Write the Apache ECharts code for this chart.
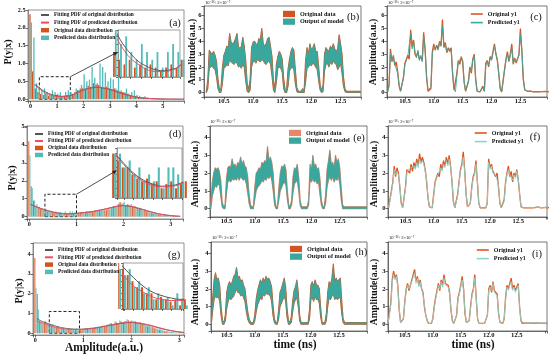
<!DOCTYPE html>
<html><head><meta charset="utf-8">
<script src="https://cdn.jsdelivr.net/npm/echarts@6/dist/echarts.min.js"></script>
<style>html,body{margin:0;padding:0;background:#fff}#c{width:550px;height:355px}</style>
</head><body><div id="c"></div>
<script>
// ---------- DATA ----------
const timeNs = [
 10.2,10.225,10.25,10.275,10.3,10.325,10.35,10.375,10.4,10.425,
 10.45,10.475,10.5,10.525,10.55,10.575,10.6,10.625,10.65,10.675,
 10.7,10.725,10.75,10.775,10.8,10.825,10.85,10.875,10.9,10.925,
 10.95,10.975,11,11.025,11.05,11.075,11.1,11.125,11.15,11.175,
 11.2,11.225,11.25,11.275,11.3,11.325,11.35,11.375,11.4,11.425,
 11.45,11.475,11.5,11.525,11.55,11.575,11.6,11.625,11.65,11.675,
 11.7,11.725,11.75,11.775,11.8,11.825,11.85,11.875,11.9,11.925,
 11.95,11.975,12,12.025,12.05,12.075,12.1,12.125,12.15,12.175,
 12.2,12.225,12.25,12.275,12.3,12.325,12.35,12.375,12.4,12.425,
 12.45,12.475,12.5,12.525,12.55,12.575,12.6,12.625,12.65,12.675,
 12.7,12.725,12.75,12.775,12.8,12.825,12.85,12.875,12.9,12.925,12.95,12.975,13,13.025,13.05];

const row1Original = [
 0.05,0.6,3.4,2.4,2.9,2.1,2.4,1.6,0.5,0.1,
 0.05,1.2,2.3,2.6,2.9,2.6,4.9,3.6,4.1,3.0,
 2.8,3.2,2.6,2.8,2.5,4.7,3.3,1.2,0.1,0.05,
 0.3,3.2,3.8,3.3,3.7,3.4,4.0,3.6,5.7,3.5,
 3.9,3.1,3.5,3.2,3.5,1.5,0.2,0.05,1.5,2.5,
 2.2,2.8,2.4,0.8,0.1,0.05,0.9,2.0,1.5,2.6,
 3.0,1.0,0.1,0.05,0.05,0.1,0.5,0.1,2.3,2.5,
 2.0,2.8,2.6,3.2,3.8,3.0,2.5,1.5,0.3,0.05,
 0.1,1.8,2.6,3.2,2.4,3.0,3.8,2.2,2.7,2.3,
 2.6,3.0,5.0,3.2,1.0,0.2,0.05,0.1,0.05,0.1,
 0.08,0.05,0.1,0.06,0.08,0.05,0.1,0.07,0.05,0.08,0.06,0.07,0.05,0.08,0.06];
const row1Predicted = [
 0.05,0.5,3.1,2.5,2.8,2.2,2.3,1.5,0.6,0.1,
 0.05,1.1,2.2,2.5,2.8,2.7,4.6,3.4,4.0,3.1,
 2.7,3.3,2.5,2.9,2.4,4.4,3.4,1.3,0.2,0.05,
 0.4,3.0,3.6,3.4,3.6,3.3,3.9,3.7,5.2,3.6,
 3.8,3.2,3.4,3.3,3.4,1.6,0.3,0.05,1.4,2.4,
 2.3,2.7,2.5,0.9,0.1,0.05,0.8,1.9,1.6,2.5,
 2.9,1.1,0.1,0.05,0.05,0.1,0.4,0.1,2.1,2.4,
 2.1,2.7,2.5,3.1,3.6,3.1,2.6,1.4,0.3,0.05,
 0.1,1.7,2.5,3.0,2.5,2.9,3.5,2.3,2.6,2.4,
 2.5,2.9,4.6,3.3,1.1,0.2,0.05,0.08,0.06,0.1,
 0.07,0.06,0.09,0.07,0.08,0.06,0.09,0.08,0.06,0.07,0.06,0.08,0.07,0.06,0.07];
const row1BandLow = [
 0,0.3,1.9,2.0,2.1,1.9,1.8,1.2,0.3,0,
 0,0.7,1.9,2.0,2.2,2.1,2.6,2.4,2.3,2.2,
 2.4,2.3,2.0,2.1,1.9,2.2,2.0,0.9,0.1,0,
 0.2,2.0,2.4,2.5,2.3,2.6,2.5,2.4,2.6,2.5,
 2.3,2.2,2.4,2.5,2.2,1.3,0.2,0,0.8,1.9,
 2.0,1.9,1.6,0.3,0,0,0.5,1.7,1.9,2.0,
 1.8,0.7,0.1,0,0,0,0,0,0.8,1.9,
 2.0,2.2,2.1,2.3,2.2,2.0,1.8,0.9,0.2,0,
 0.1,1.7,2.2,2.3,2.0,2.4,2.2,2.5,2.3,2.2,
 1.8,2.0,2.3,1.5,0.5,0.1,0,0,0,0,
 0,0,0,0,0,0,0,0,0,0,0,0,0,0,0];
const row1BandHigh = [
 0.1,1.0,3.3,3.1,3.0,3.2,2.9,2.4,1.0,0.2,
 0.3,1.9,2.9,3.2,3.6,3.5,4.6,3.9,3.8,3.9,
 4.2,4.6,3.6,3.4,3.6,4.3,3.6,2.5,0.7,0.2,
 1.0,3.5,3.9,4.0,3.8,3.7,4.2,4.1,5.0,3.8,
 3.6,3.8,4.2,4.3,3.6,2.8,0.9,0.2,2.2,2.8,
 3.2,3.0,2.6,1.1,0.2,0.2,1.8,2.6,3.2,3.5,
 3.3,1.8,0.4,0.1,0.1,0.1,0.3,0.1,2.5,3.5,
 3.0,3.8,3.3,3.5,3.8,3.2,3.2,2.0,0.6,0.1,
 0.6,3.0,3.5,3.3,3.2,3.6,3.4,3.8,3.4,3.2,
 3.4,4.5,3.8,3.0,1.2,0.3,0.1,0.1,0.1,0.1,
 0.1,0.1,0.1,0.1,0.1,0.1,0.1,0.1,0.1,0.1,0.1,0.1,0.1,0.1,0.1];

const row2Original = [
 0.05,0.1,1.0,1.5,2.4,1.8,2.3,2.0,1.2,0.3,
 0.05,0.1,1.2,2.2,2.3,2.0,2.5,2.1,2.6,2.3,
 2.8,2.4,3.1,2.6,2.9,2.6,2.2,1.5,0.6,0.1,
 0.05,0.05,0.8,1.5,1.6,2.0,1.8,2.5,2.2,2.7,
 2.4,2.9,2.5,3.0,2.4,1.5,0.4,0.05,0.05,0.8,
 1.5,2.2,2.5,3.2,2.2,0.8,0.1,0.05,0.3,1.2,
 1.8,2.0,2.7,1.5,0.3,0.05,0.05,0.05,0.05,0.05,
 0.3,2.8,2.3,2.5,2.1,2.2,1.8,2.0,1.2,0.3,
 0.05,0.05,0.5,1.5,2.0,2.4,1.8,2.1,1.5,2.0,
 1.8,2.2,1.6,0.8,0.1,0.05,0.05,0.1,0.05,0.08,
 0.06,0.1,0.05,0.08,0.06,0.05,0.1,0.07,0.05,0.08,0.06,0.05,0.07,0.06,0.05];
const row2Predicted = [
 0.05,0.1,0.9,1.4,2.2,1.9,2.1,1.9,1.3,0.3,
 0.05,0.1,1.1,2.0,2.2,2.1,2.3,2.2,2.4,2.2,
 2.6,2.3,2.8,2.5,2.7,2.5,2.1,1.6,0.6,0.1,
 0.05,0.05,0.7,1.4,1.7,1.9,1.9,2.3,2.1,2.5,
 2.3,2.7,2.4,2.8,2.3,1.6,0.4,0.05,0.05,0.7,
 1.4,2.1,2.4,2.9,2.1,0.9,0.1,0.05,0.3,1.1,
 1.7,1.9,2.5,1.6,0.3,0.05,0.05,0.05,0.05,0.05,
 0.3,2.6,2.2,2.4,2.0,2.1,1.9,1.9,1.3,0.3,
 0.05,0.05,0.4,1.4,1.9,2.2,1.9,2.0,1.6,1.9,
 1.7,2.1,1.7,0.8,0.1,0.05,0.05,0.08,0.06,0.07,
 0.07,0.09,0.06,0.07,0.08,0.06,0.08,0.07,0.06,0.07,0.06,0.07,0.08,0.06,0.07];
const row2BandLow = [
 0,0,0.7,1.0,1.3,1.2,1.4,1.3,0.7,0.1,
 0,0,0.8,1.5,1.6,1.5,1.7,1.6,1.7,1.6,
 1.8,1.6,1.8,1.7,1.6,1.7,1.4,0.9,0.3,0,
 0,0,0.5,1.0,1.2,1.3,1.4,1.6,1.5,1.7,
 1.6,1.8,1.7,1.9,1.6,1.0,0.2,0,0,0.5,
 1.0,1.2,1.4,1.5,1.3,0.5,0,0,0.2,0.9,
 1.4,1.5,1.6,1.0,0.2,0,0,0,0,0,
 0.2,1.6,1.5,1.7,1.5,1.6,1.4,1.5,0.8,0.2,
 0,0,0.3,1.2,1.6,1.8,1.6,1.8,1.5,1.7,
 1.6,1.8,1.4,0.5,0,0,0,0,0,0,
 0,0,0,0,0,0,0,0,0,0,0,0,0,0,0];
const row2BandHigh = [
 0.1,0.2,1.5,2.0,2.3,2.2,2.3,2.1,1.6,0.4,
 0.1,0.2,1.7,2.3,2.4,2.3,2.8,2.4,2.5,2.3,
 2.6,2.5,2.9,2.5,2.7,2.4,2.3,1.8,0.8,0.2,
 0.1,0.1,1.2,2.0,2.1,2.3,2.2,2.6,2.5,2.7,
 2.6,3.5,2.7,2.9,2.6,2.0,0.7,0.1,0.1,1.2,
 2.0,2.4,2.3,2.5,2.2,1.0,0.2,0.1,0.5,1.8,
 2.3,2.2,2.5,1.8,0.5,0.1,0.1,0.1,0.1,0.1,
 0.5,2.5,2.2,3.0,2.4,2.5,2.2,2.3,1.7,0.5,
 0.1,0.1,0.8,2.2,2.7,3.3,2.5,2.6,2.3,3.0,
 2.6,2.8,2.3,1.2,0.2,0.1,0.1,0.1,0.1,0.1,
 0.1,0.1,0.1,0.1,0.1,0.1,0.1,0.1,0.1,0.1,0.1,0.1,0.1,0.1,0.1];

const row3Original = [
 0.05,0.1,1.2,2.5,3.0,2.6,2.8,2.2,0.8,0.1,
 0.05,0.3,1.3,2.0,2.3,1.9,2.2,2.5,2.6,3.1,
 2.4,2.7,2.2,2.5,2.0,1.8,1.0,0.5,0.2,0.05,
 0.05,0.05,0.3,1.0,1.5,1.9,2.3,1.9,2.5,2.2,
 2.8,2.3,2.4,2.2,1.8,0.8,0.2,0.05,0.05,0.5,
 1.5,1.8,2.2,2.7,2.0,0.6,0.1,0.05,0.2,1.0,
 1.7,2.0,2.8,1.5,0.3,0.05,0.05,0.05,0.05,0.05,
 0.05,0.5,2.0,2.2,1.8,2.4,1.9,2.0,1.7,0.6,
 0.1,0.05,0.05,0.3,1.5,2.2,2.0,2.3,2.6,2.0,
 2.2,1.9,2.1,2.3,1.0,0.2,0.05,0.05,0.08,0.05,
 0.06,0.05,0.08,0.05,0.06,0.05,0.07,0.05,0.06,0.05,0.06,0.05,0.06,0.05,0.06];
const row3Predicted = [
 0.05,0.1,1.1,2.3,2.8,2.5,2.7,2.1,0.9,0.1,
 0.05,0.3,1.2,1.9,2.2,2.0,2.1,2.4,2.5,2.9,
 2.3,2.6,2.1,2.4,2.0,1.7,1.1,0.5,0.2,0.05,
 0.05,0.05,0.3,0.9,1.4,1.8,2.2,2.0,2.4,2.1,
 2.6,2.2,2.3,2.1,1.7,0.9,0.2,0.05,0.05,0.5,
 1.4,1.7,2.1,2.5,1.9,0.7,0.1,0.05,0.2,0.9,
 1.6,1.9,2.6,1.5,0.3,0.05,0.05,0.05,0.05,0.05,
 0.05,0.5,1.9,2.1,1.9,2.3,1.8,1.9,1.6,0.6,
 0.1,0.05,0.05,0.3,1.4,2.1,1.9,2.2,2.4,1.9,
 2.1,1.8,2.0,2.2,1.0,0.2,0.1,0.08,0.1,0.07,
 0.08,0.07,0.1,0.08,0.07,0.09,0.08,0.07,0.09,0.08,0.07,0.08,0.09,0.07,0.08];
const row3BandLow = [
 0,0,0.8,1.4,1.6,1.5,1.6,1.3,0.5,0,
 0,0.2,0.9,1.3,1.5,1.4,1.5,1.6,1.8,2.0,
 1.8,1.8,1.6,1.7,1.5,1.3,0.7,0.3,0.1,0,
 0,0,0.2,0.7,1.1,1.3,1.5,1.4,1.7,1.6,
 1.8,1.7,1.7,1.6,1.3,0.5,0.1,0,0,0.3,
 1.0,1.2,1.4,1.6,1.3,0.4,0,0,0.1,0.7,
 1.2,1.4,1.5,1.0,0.2,0,0,0,0,0,
 0,0.3,1.4,1.5,1.3,1.6,1.4,1.4,1.2,0.4,
 0,0,0,0.2,1.0,1.5,1.4,1.6,1.7,1.4,
 1.5,1.4,1.5,1.5,0.6,0.1,0,0,0,0,
 0,0,0,0,0,0,0,0,0,0,0,0,0,0,0];
const row3BandHigh = [
 0.1,0.2,1.5,2.5,2.9,2.5,2.6,2.2,1.0,0.2,
 0.1,0.5,1.8,2.2,2.4,2.2,2.4,2.7,2.8,3.2,
 2.6,2.7,2.4,2.5,2.2,2.0,1.3,0.7,0.3,0.1,
 0.1,0.1,0.5,1.4,1.9,2.2,2.5,2.3,2.6,2.4,
 2.7,2.5,2.6,2.4,2.1,1.1,0.3,0.1,0.1,0.8,
 1.8,2.0,2.3,2.6,2.1,0.9,0.2,0.1,0.4,1.3,
 1.9,2.1,2.5,1.8,0.5,0.1,0.1,0.1,0.1,0.1,
 0.1,0.8,2.2,2.4,2.1,2.5,2.2,2.2,2.0,0.9,
 0.1,0.1,0.1,0.6,1.8,2.4,2.2,2.6,3.4,2.4,
 2.6,2.4,2.5,2.6,1.3,0.3,0.1,0.1,0.1,0.1,
 0.1,0.1,0.1,0.1,0.1,0.1,0.1,0.1,0.1,0.1,0.1,0.1,0.1,0.1,0.1];

// histograms
const ampBinsA = [0,0.1,0.2,0.3,0.4,0.5,0.6,0.7,0.8,0.9,1,1.1,1.2,1.3,1.4,1.5,1.6,1.7,1.8,1.9,2,2.1,2.2,2.3,2.4,2.5,2.6,2.7,2.8,2.9,3,3.1,3.2,3.3,3.4,3.5,3.6,3.7,3.8,3.9,4,4.1,4.2,4.3,4.4,4.5,4.6,4.7,4.8,4.9,5];
const origDistA = [2.38,0.78,0.3,0.2,0.15,0.12,0.15,0.1,0.12,0.1, 0.12,0.1,0.08,0.1,0.12,0.1,0.15,0.2,0.25,0.3, 0.32,0.3,0.38,0.35,0.45,0.42,0.4,0.35,0.32,0.35, 0.3,0.28,0.3,0.25,0.22,0.2,0.18,0.15,0.12,0.1, 0.08,0.06,0.05,0.04,0.03,0.02,0.01,0.01,0.01,0.01,0.01];
const predDistA = [2.15,1.73,0.45,0.35,0.25,0.3,0.2,0.15,0.25,0.2, 0.15,0.2,0.1,0.2,0.25,0.2,0.15,0.3,0.25,0.4, 0.7,0.5,0.55,0.9,0.6,0.45,1.0,0.9,0.75,0.5, 0.6,0.55,0.3,0.7,0.25,0.2,0.3,0.15,0.2,0.25, 0.12,0.1,0.05,0.08,0.05,0.02,0.01,0.01,0.01,0.01,0.01];
const fitAmpA = [0.15,0.3,0.4,0.5,0.6,0.75,0.9,1.0,1.1,1.25,1.4,1.5,1.75,2,2.25,2.5,2.75,3,3.25,3.5,3.75,4,4.25,4.5,5,5.5,5.8];
const fitOrigA = [0.42,0.34,0.28,0.23,0.19,0.14,0.11,0.095,0.085,0.08,0.09,0.1,0.18,0.26,0.31,0.33,0.31,0.27,0.21,0.15,0.1,0.06,0.035,0.02,0.006,0.002,0.001];
const fitPredA = [0.4,0.31,0.25,0.2,0.16,0.12,0.09,0.08,0.075,0.075,0.085,0.1,0.17,0.25,0.31,0.34,0.32,0.28,0.22,0.16,0.1,0.06,0.035,0.02,0.006,0.002,0.001];

const ampBinsDG = [0,0.05,0.1,0.15,0.2,0.25,0.3,0.35,0.4,0.45, 0.5,0.55,0.6,0.65,0.7,0.75,0.8,0.85,0.9,0.95, 1,1.05,1.1,1.15,1.2,1.25,1.3,1.35,1.4,1.45, 1.5,1.55,1.6,1.65,1.7,1.75,1.8,1.85,1.9,1.95, 2,2.05,2.1,2.15,2.2,2.25,2.3,2.35,2.4,2.45, 2.5,2.55,2.6,2.65,2.7,2.75,2.8,2.85,2.9,2.95, 3,3.05,3.1,3.15];
const origDistD = [4.2,1.7,0.9,0.6,0.5,0.45,0.4,0.35,0.3,0.3, 0.25,0.22,0.2,0.22,0.18,0.2,0.15,0.18,0.2,0.15, 0.18,0.2,0.22,0.2,0.25,0.22,0.28,0.3,0.35,0.3, 0.38,0.35,0.4,0.38,0.45,0.5,0.55,0.6,0.7,0.8, 0.75,0.65,0.7,0.6,0.55,0.6,0.5,0.45,0.4,0.35, 0.3,0.25,0.2,0.18,0.15,0.12,0.1,0.08,0.06,0.05, 0.04,0.03,0.02,0.01];
const predDistD = [3.4,1.6,0.9,0.7,0.55,0.45,0.4,0.4,0.3,0.35, 0.25,0.3,0.2,0.25,0.2,0.3,0.15,0.3,0.3,0.25, 0.2,0.15,0.25,0.2,0.3,0.25,0.3,0.25,0.35,0.4, 0.3,0.4,0.35,0.45,0.4,0.5,0.6,0.55,0.8,0.7, 0.85,0.6,0.65,0.7,0.5,0.55,0.45,0.5,0.35,0.4, 0.3,0.25,0.2,0.2,0.15,0.1,0.1,0.08,0.05,0.05, 0.03,0.02,0.02,0.01];
const fitAmpD = [0.03,0.1,0.2,0.3,0.4,0.5,0.6,0.7,0.8,0.9,1.0,1.2,1.4,1.6,1.8,1.9,2.0,2.1,2.2,2.4,2.6,2.8,3.0,3.2];
const fitOrigD = [0.68,0.6,0.5,0.41,0.33,0.26,0.21,0.18,0.165,0.17,0.19,0.24,0.31,0.42,0.54,0.59,0.61,0.59,0.54,0.4,0.25,0.13,0.06,0.02];
const fitPredD = [0.66,0.59,0.49,0.4,0.32,0.25,0.2,0.17,0.16,0.165,0.185,0.24,0.31,0.42,0.55,0.6,0.62,0.6,0.55,0.41,0.26,0.13,0.06,0.02];

const origDistG = [3.8,2.0,0.6,0.55,0.55,0.5,0.45,0.4,0.35,0.3, 0.3,0.25,0.25,0.2,0.22,0.2,0.18,0.2,0.15,0.2, 0.18,0.2,0.22,0.25,0.22,0.28,0.3,0.3,0.35,0.35, 0.4,0.45,0.5,0.45,0.55,0.5,0.6,0.55,0.6,0.65, 0.6,0.55,0.6,0.5,0.55,0.45,0.4,0.35,0.35,0.3, 0.25,0.22,0.18,0.15,0.12,0.1,0.08,0.06,0.05,0.04, 0.03,0.02,0.01,0.01];
const predDistG = [2.3,1.2,0.6,0.5,0.6,0.45,0.4,0.45,0.3,0.35, 0.25,0.3,0.2,0.25,0.2,0.22,0.15,0.25,0.2,0.15, 0.2,0.25,0.2,0.3,0.25,0.3,0.35,0.3,0.4,0.35, 0.45,0.5,0.45,0.6,0.5,0.65,0.55,0.6,0.7,0.55, 0.65,0.6,0.5,0.55,0.45,0.5,0.4,0.35,0.3,0.3, 0.25,0.2,0.2,0.15,0.1,0.1,0.08,0.05,0.05,0.03, 0.02,0.01,0.01,0.01];
const fitAmpG = [0.03,0.1,0.2,0.3,0.4,0.5,0.6,0.7,0.8,0.9,1.0,1.2,1.4,1.6,1.8,1.9,2.0,2.1,2.2,2.4,2.6,2.8,3.0,3.1];
const fitOrigG = [0.75,0.64,0.55,0.46,0.38,0.31,0.26,0.23,0.21,0.2,0.21,0.25,0.33,0.42,0.5,0.53,0.54,0.52,0.48,0.38,0.25,0.14,0.06,0.03];
const fitPredG = [0.62,0.55,0.48,0.39,0.31,0.26,0.22,0.2,0.19,0.19,0.2,0.25,0.33,0.43,0.52,0.55,0.56,0.54,0.5,0.4,0.27,0.15,0.07,0.04];

// tick labels
const ampTicksA = [0,1,2,3,4,5];
const probTicksA = [0,0.5,1,1.5,2,2.5];
const ampTicksDG = [0,1,2,3];
const probTicksD = [0,1,2,3,4,5];
const probTicksG = [0,1,2,3,4];
const timeTicks = [10.5,11,11.5,12,12.5];
const amplTicks6 = [0,1,2,3,4,5,6];
const amplTicks4 = [0,1,2,3,4];

// ---------- BUILD ----------
const SERIF = '"Liberation Serif","Times New Roman",serif';
const COL = {
  orange:'#d5531f', teal:'#52bcbb', orange2:'#e6866a', fitGray:'#555555', fitRed:'#ee4b62',
  bandTeal:'#3aa79d', lineOrange:'#e0541e', predDark:'#36aa9f', predLight:'#8ad6cf'
};
const grids=[], xAxis=[], yAxis=[], series=[], legend=[], graphic=[];

function labelFrom(ticks, dec){
  return function(v){ for (const t of ticks){ if (Math.abs(v-t)<1e-6) return t.toFixed(dec); } return ''; };
}
function panel(box, xr, yr, o){
  o = o || {};
  const gi = grids.length;
  const frame = o.frame || '#555';
  grids.push({left:box[0], top:box[1], width:box[2], height:box[3], show:true, borderColor:frame, borderWidth:0.8, backgroundColor:'#fff'});
  const mk = (r, ticks, dec, split, margin) => ({
    type:'value', gridIndex:gi, min:r[0], max:r[1], splitNumber:split,
    splitLine:{show:false},
    axisLine:{show:true, onZero:false, lineStyle:{color:frame, width:0.8}},
    axisTick:{show:true, length:o.tick||2.5, lineStyle:{color:'#333', width:0.7}},
    axisLabel: ticks ? {show:true, margin:margin, fontFamily:SERIF, fontWeight:'bold', fontSize:o.fs||6.6, color:'#111', formatter:labelFrom(ticks, dec)} : {show:false}
  });
  xAxis.push(mk(xr, o.xt, o.xd||0, o.xs||5, o.xm!=null?o.xm:2.5));
  yAxis.push(mk(yr, o.yt, o.yd||0, o.ys||5, 2.5));
  return gi;
}
function histSeries(gi, bins, orig, pred, w, named, opac, box){
  const s1 = {type:'bar', xAxisIndex:gi, yAxisIndex:gi, barWidth:w, barGap:'0%',
    data: bins.map((b,i)=>[b, orig[i]]), itemStyle:{color:COL.orange, opacity:opac}};
  const s2 = {type:'bar', xAxisIndex:gi, yAxisIndex:gi, barWidth:w, barGap:'0%',
    data: bins.map((b,i)=>[b, pred[i]]), itemStyle:{color:COL.teal, opacity:opac}};
  if (named){ s1.name='Original data distribution'; s2.name='Predicted data distribution'; }
  if (box){
    s2.markArea = {silent:true, itemStyle:{color:'rgba(0,0,0,0)', borderColor:'#222', borderWidth:1, borderType:[3,2]},
      data:[[{coord:[box[0], box[1]]},{coord:[box[2], box[3]]}]]};
  }
  series.push(s1, s2);
}
function fitSeries(gi, xs, o, p, named, w){
  const a = {type:'line', xAxisIndex:gi, yAxisIndex:gi, smooth:0.5, symbol:'none', z:5,
    data: xs.map((x,i)=>[x, o[i]]), lineStyle:{color:COL.fitGray, width:w||0.9}, itemStyle:{color:COL.fitGray}};
  const b = {type:'line', xAxisIndex:gi, yAxisIndex:gi, smooth:0.5, symbol:'none', z:5,
    data: xs.map((x,i)=>[x, p[i]]), lineStyle:{color:COL.fitRed, width:w||0.9}, itemStyle:{color:COL.fitRed}};
  if (named){ a.name='Fitting PDF of original distribution'; b.name='Fitting PDF of predicted distribution'; }
  series.push(a, b);
}
function band(gi, lo, hi, fill, stroke, edge, name){
  series.push({type:'custom', name:name, xAxisIndex:gi, yAxisIndex:gi, clip:true,
    data:[[timeNs[0], 0]], itemStyle:{color:fill},
    renderItem: function(params, api){
      const pts = [];
      for (let i=0;i<timeNs.length;i++) pts.push(api.coord([timeNs[i], hi[i]]));
      for (let i=timeNs.length-1;i>=0;i--) pts.push(api.coord([timeNs[i], lo[i]]));
      return {type:'polygon', shape:{points:pts}, style:{fill:fill, stroke:stroke, lineWidth:edge, lineJoin:'round'}};
    }});
}
function lines(gi, orig, pred, predColor){
  series.push({type:'line', name:'Original y1', xAxisIndex:gi, yAxisIndex:gi, symbol:'none',
    data: timeNs.map((t,i)=>[t, orig[i]]), lineStyle:{color:COL.lineOrange, width:1.3}, itemStyle:{color:COL.lineOrange}});
  series.push({type:'line', name:'Predicted y1', xAxisIndex:gi, yAxisIndex:gi, symbol:'none',
    data: timeNs.map((t,i)=>[t, pred[i]]), lineStyle:{color:predColor, width:0.9}, itemStyle:{color:predColor}});
}
function txt(x, y, text, size, o){
  o = o || {};
  graphic.push({type:'text', x:x, y:y, rotation:o.rot||0, z:100, silent:true,
    style:{text:text, fontSize:size, fontFamily:SERIF, fontWeight:o.normal?'normal':'bold', fill:'#111',
      align:o.align||'center', verticalAlign:'middle'}});
}
const hideSym = {opacity:0};
function leftLegend(left, top, gap){
  legend.push({left:left, top:top, orient:'vertical', padding:0, itemGap:gap, itemWidth:8, itemHeight:4.5, selectedMode:false,
    textStyle:{fontFamily:SERIF, fontWeight:'bold', fontSize:5.3, color:'#111', lineHeight:5},
    data:[{name:'Fitting PDF of original distribution', itemStyle:hideSym},
          {name:'Fitting PDF of predicted distribution', itemStyle:hideSym},
          {name:'Original data distribution', icon:'rect'},{name:'Predicted data distribution', icon:'rect'}]});
}
function midLegend(left, top, orangeColor){
  legend.push({left:left, top:top, orient:'vertical', padding:0, itemGap:1.4, itemWidth:12, itemHeight:6.3, selectedMode:false,
    textStyle:{fontFamily:SERIF, fontWeight:'bold', fontSize:6.2, color:'#111', lineHeight:6.3},
    data:[{name:'Original data', icon:'rect', itemStyle:{color:orangeColor, borderWidth:0}},
          {name:'Output of model', icon:'rect', itemStyle:{color:COL.bandTeal, borderWidth:0}}]});
}
function rightLegend(left, top, predColor){
  legend.push({left:left, top:top, orient:'vertical', padding:0, itemGap:2.6, itemWidth:12, itemHeight:6, selectedMode:false,
    textStyle:{fontFamily:SERIF, fontWeight:'bold', fontSize:6, color:'#111', lineHeight:6},
    data:[{name:'Original y1', itemStyle:hideSym, lineStyle:{width:1.6}},
          {name:'Predicted y1', itemStyle:hideSym, lineStyle:{color:predColor, width:1.6}}]});
}

// ---- Row 1 ----
const gA = panel([28,10,156,91], [-0.1,5.8], [-0.05,2.5], {xt:ampTicksA, yt:probTicksA, yd:1, xs:5, ys:5, fs:6.2, frame:'#777'});
histSeries(gA, ampBinsA, origDistA, predDistA, 1.3, true, 1, [0.33,0,1.5,0.63]);
fitSeries(gA, fitAmpA, fitOrigA, fitPredA, true);
const gAi = panel([118,30,62,47], [0.36,1.55], [0.04,0.34], {xs:6, ys:6, tick:2, frame:'#888'});
histSeries(gAi, ampBinsA, origDistA, predDistA, 1.8, false, 1, null);
fitSeries(gAi, fitAmpA, fitOrigA, fitPredA, false, 1);

const gB = panel([204,6,157,91], [10.16,12.85], [-0.35,6.75], {xt:timeTicks, xd:1, yt:amplTicks6, xs:5, ys:7, xm:1.2});
band(gB, row1BandLow, row1BandHigh, COL.orange, COL.orange, 1.1, 'Original data');
band(gB, row1BandLow, row1BandHigh, COL.bandTeal, COL.bandTeal, 0.2, 'Output of model');

const gC = panel([387,6,161,91], [10.19,12.96], [-0.35,6.75], {xt:timeTicks, xd:1, yt:amplTicks6, xs:5, ys:7, xm:1.2});
lines(gC, row1Original, row1Predicted, COL.predDark);

// ---- Row 2 ----
const gD = panel([27,126,156,93], [-0.05,3.26], [-0.13,5.05], {xt:ampTicksDG, yt:probTicksD, xs:3, ys:5, fs:6.2, frame:'#777'});
histSeries(gD, ampBinsDG, origDistD, predDistD, 1.1, true, 0.85, [0.33,0,1.0,1.25]);
fitSeries(gD, fitAmpD, fitOrigD, fitPredD, true);
const gDi = panel([117,148,65,50], [0.33,1.0], [0.08,0.44], {xs:6, ys:6, tick:2, frame:'#888'});
histSeries(gDi, ampBinsDG, origDistD, predDistD, 2.1, false, 1, null);
fitSeries(gDi, fitAmpD, fitOrigD, fitPredD, false, 1);

const gE = panel([210,126,157,91], [10.21,12.98], [-0.47,4.65], {xt:timeTicks, xd:1, yt:amplTicks4, xs:5, ys:5, xm:1.2});
band(gE, row2BandLow, row2BandHigh, COL.orange2, COL.orange2, 1.1, 'Original data');
band(gE, row2BandLow, row2BandHigh, COL.bandTeal, COL.bandTeal, 0.2, 'Output of model');

const gF = panel([388,126,160,91], [10.19,13.01], [-0.47,4.65], {xt:timeTicks, xd:1, yt:amplTicks4, xs:5, ys:5, xm:1.2});
lines(gF, row2Original, row2Predicted, COL.predLight);

// ---- Row 3 ----
const gG = panel([33,243,151,92], [-0.05,3.1], [-0.09,4.56], {xt:ampTicksDG, yt:probTicksG, xs:3, ys:4, fs:6.2, frame:'#777'});
histSeries(gG, ampBinsDG, origDistG, predDistG, 1.1, true, 0.85, [0.29,0,0.92,1.1]);
fitSeries(gG, fitAmpG, fitOrigG, fitPredG, true);
const gGi = panel([123,263,60,46], [0.29,0.92], [0.12,0.5], {xs:6, ys:6, tick:2, frame:'#888'});
histSeries(gGi, ampBinsDG, origDistG, predDistG, 2.0, false, 1, null);
fitSeries(gGi, fitAmpG, fitOrigG, fitPredG, false, 1);

const gH = panel([211,242,156,89], [10.22,13.0], [-0.38,4.64], {xt:timeTicks, xd:1, yt:amplTicks4, xs:5, ys:5, xm:1.2});
band(gH, row3BandLow, row3BandHigh, COL.orange, COL.orange, 1.1, 'Original data');
band(gH, row3BandLow, row3BandHigh, COL.bandTeal, COL.bandTeal, 0.2, 'Output of model');

const gI = panel([388,242,160,89], [10.2,13.04], [-0.38,4.64], {xt:timeTicks, xd:1, yt:amplTicks4, xs:5, ys:5, xm:1.2});
lines(gI, row3Original, row3Predicted, COL.predLight);

// ---- legends ----
leftLegend(40, 12.5, 2.6);
leftLegend(34, 131.5, 2.0);
leftLegend(44, 247.5, 2.3);
midLegend(283, 10.8, COL.orange);
midLegend(289, 129.8, COL.orange2);
midLegend(290, 245.8, COL.orange);
rightLegend(470, 11, COL.predDark);
rightLegend(474, 130, COL.predLight);
rightLegend(476, 247, COL.predLight);

// ---- texts ----
const lab = [['(a)',175,23],['(b)',353,17],['(c)',536,17],['(d)',175,134],['(e)',359,138],['(f)',535,137],['(g)',174,255],['(h)',361,252],['(i)',537,254]];
lab.forEach(l => txt(l[1], l[2], l[0], 10.5, {normal:true}));
const sc = '10\u207B\u00B9\u2076+2\u00D710\u207B\u2077';
[[205,3],[388,3],[210,122],[388,122],[212,238],[389,238]].forEach(p => txt(p[0], p[1], sc, 4.6, {normal:true, align:'left'}));
txt(8, 52, 'P(y|x)', 10, {rot:Math.PI/2});
txt(12, 178, 'P(y|x)', 10, {rot:Math.PI/2});
txt(19, 291, 'P(y|x)', 10, {rot:Math.PI/2});
[[192,52],[373,52],[195,174],[374,174],[195,292],[374,292]].forEach(p => txt(p[0], p[1], 'Amplitude(a.u.)', 9.8, {rot:Math.PI/2}));
txt(104, 348, 'Amplitude(a.u.)', 11.5);
txt(295, 345, 'time (ns)', 11.5);
txt(473, 345, 'time (ns)', 11.5);

const chart = echarts.init(document.getElementById('c'), null, {renderer:'canvas', width:550, height:355});
const option = {animation:false, backgroundColor:'#fff', grid:grids, xAxis:xAxis, yAxis:yAxis, series:series, legend:legend, graphic:graphic};
chart.setOption(option);

function arrowEls(gMain, from, gIn, to){
  const p1 = chart.convertToPixel({gridIndex:gMain}, from);
  const p2 = chart.convertToPixel({gridIndex:gIn}, to);
  const dx=p2[0]-p1[0], dy=p2[1]-p1[1], L=Math.hypot(dx,dy), ux=dx/L, uy=dy/L;
  const hl=4.5, hw=1.9, bx=p2[0]-ux*hl, by=p2[1]-uy*hl;
  return [
    {type:'line', z:100, silent:true, shape:{x1:p1[0],y1:p1[1],x2:bx,y2:by}, style:{stroke:'#222', lineWidth:0.8}},
    {type:'polygon', z:100, silent:true, shape:{points:[[p2[0],p2[1]],[bx-uy*hw,by+ux*hw],[bx+uy*hw,by-ux*hw]]}, style:{fill:'#222'}}
  ];
}
const arrows = [].concat(
  arrowEls(gA, [1.5,0.63], gAi, [0.36,0.2]),
  arrowEls(gD, [1.0,1.25], gDi, [0.33,0.28])
);
chart.setOption({graphic: graphic.concat(arrows)}, {replaceMerge:['graphic']});
</script></body></html>
